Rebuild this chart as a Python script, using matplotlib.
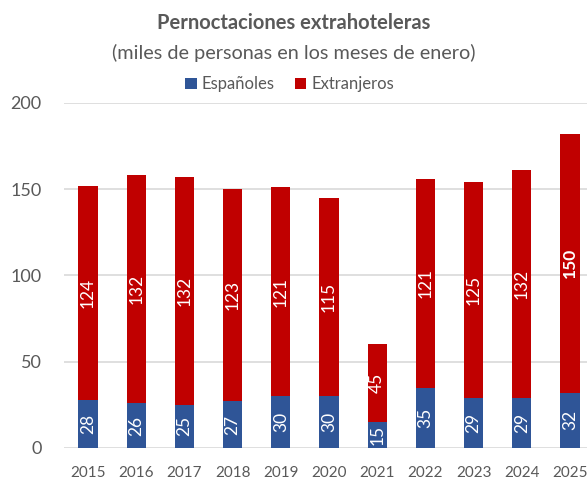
import numpy as np
import matplotlib.pyplot as plt

plt.rcParams['font.family'] = ['Lato', 'DejaVu Sans']

years = ['2015', '2016', '2017', '2018', '2019', '2020', '2021', '2022', '2023', '2024', '2025']
espanoles = [28, 26, 25, 27, 30, 30, 15, 35, 29, 29, 32]
extranjeros = [124, 132, 132, 123, 121, 115, 45, 121, 125, 132, 150]

azul = '#2F5597'
rojo = '#C00000'
gris = '#595959'

fig = plt.figure(figsize=[5.87, 4.80], dpi=100)
ax = fig.add_axes([0.109, 0.0667, 0.903, 0.719])

x = np.arange(len(years))
w = 0.4
b1 = ax.bar(x, espanoles, width=w, color=azul, label='Españoles', zorder=3)
b2 = ax.bar(x, extranjeros, width=w, bottom=espanoles, color=rojo, label='Extranjeros', zorder=3)

for i in range(len(years)):
    ax.text(x[i], espanoles[i] / 2, str(espanoles[i]), rotation=90, ha='center', va='center',
            color='white', fontsize=12.5, zorder=4)
    peso = 'bold' if years[i] == '2025' else 'normal'
    ax.text(x[i], espanoles[i] + extranjeros[i] / 2, str(extranjeros[i]), rotation=90,
            ha='center', va='center', color='white', fontsize=12.5, fontweight=peso, zorder=4)

ax.set_xlim(-0.5, len(years) - 0.5)
ax.set_ylim(0, 200)
ax.set_yticks([0, 50, 100, 150, 200])
ax.set_xticks(x)
ax.set_xticklabels(years)
ax.grid(axis='y', color='#D9D9D9', linewidth=1.2, zorder=0)
for s in ax.spines.values():
    s.set_visible(False)
ax.tick_params(axis='both', length=0, colors=gris)
ax.tick_params(axis='y', labelsize=13, pad=16)
ax.tick_params(axis='x', labelsize=11, pad=13)

fig.text(0.5, 0.953, 'Pernoctaciones extrahoteleras', ha='center', va='center',
         fontsize=14.5, fontweight='bold', color=gris)
fig.text(0.5, 0.89, '(miles de personas en los meses de enero)', ha='center', va='center',
         fontsize=14.3, color=gris)
fig.legend(handles=[b1, b2], loc='center', bbox_to_anchor=(0.493, 0.824), ncol=2, frameon=False,
           fontsize=12, labelcolor=gris, handlelength=0.7, handleheight=0.7,
           handletextpad=0.3, columnspacing=1.2)

fig.savefig('out.png', dpi=100)
